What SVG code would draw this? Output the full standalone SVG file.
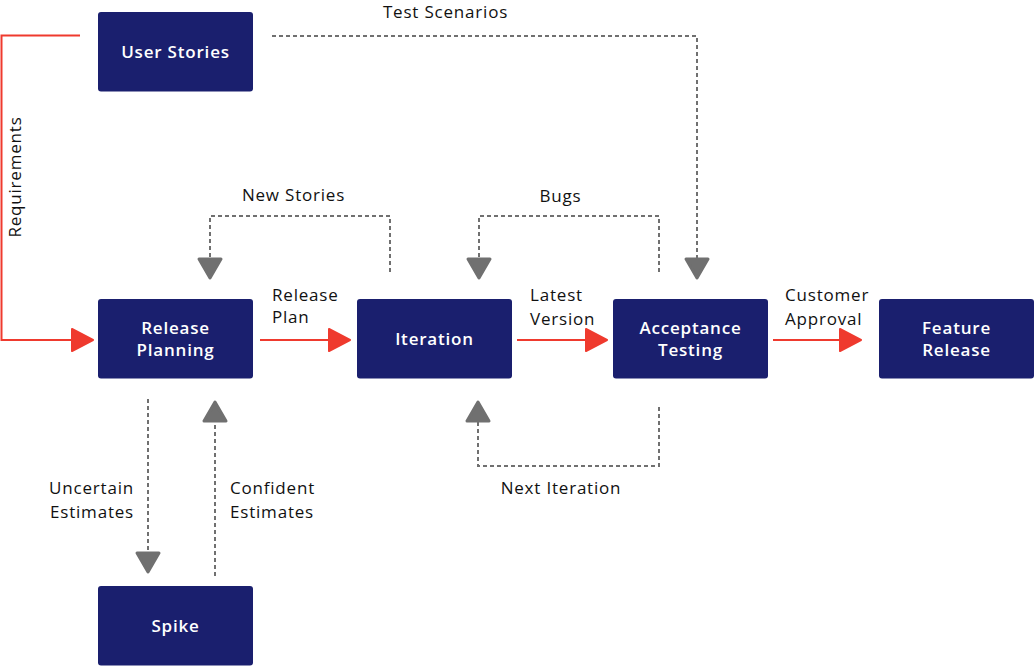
<svg xmlns="http://www.w3.org/2000/svg" width="1035" height="666" viewBox="0 0 1035 666">
<style>
.box{fill:#1a1f6e;}
.nt{font-family:"Open Sans","Liberation Sans",sans-serif;font-weight:600;font-size:17px;letter-spacing:0.8px;fill:#ffffff;text-anchor:middle;}
.lb{font-family:"Open Sans","Liberation Sans",sans-serif;font-size:17px;letter-spacing:0.8px;fill:#111111;}
.red{fill:none;stroke:#ef3a2e;stroke-width:2;}
.dash{fill:none;stroke:#707070;stroke-width:2;stroke-dasharray:4 3;}
</style>
<defs>
<marker id="ar" markerUnits="userSpaceOnUse" markerWidth="26" markerHeight="26" viewBox="0 0 26 26" refX="23" refY="13" orient="auto">
<path d="M2,2 L23,13 L2,24 Z" fill="#ef3a2e" stroke="#ef3a2e" stroke-width="2" stroke-linejoin="round"/>
</marker>
<marker id="ag" markerUnits="userSpaceOnUse" markerWidth="26" markerHeight="28" viewBox="0 0 26 28" refX="22" refY="14" orient="auto">
<path d="M3,3 L22,14 L3,25 Z" fill="#707070" stroke="#707070" stroke-width="3" stroke-linejoin="round"/>
</marker>
</defs>
<g id="connectors">
<path class="red" d="M80,35.5 H1.5 V340 H93" marker-end="url(#ar)"/>
<path class="red" d="M260,340 H350" marker-end="url(#ar)"/>
<path class="red" d="M517,340 H607" marker-end="url(#ar)"/>
<path class="red" d="M773,340 H861" marker-end="url(#ar)"/>
<path class="dash" d="M272,36 H697 V278" marker-end="url(#ag)"/>
<path class="dash" d="M390,272 V216 H210 V278" marker-end="url(#ag)"/>
<path class="dash" d="M659,272 V216 H479 V278" marker-end="url(#ag)"/>
<path class="dash" d="M659,407 V466 H478 V402" marker-end="url(#ag)"/>
<path class="dash" d="M148,399 V572" marker-end="url(#ag)"/>
<path class="dash" d="M215,576 V402" marker-end="url(#ag)"/>
<text class="lb" transform="translate(21,177) rotate(-90)" text-anchor="middle">Requirements</text>
<text class="lb" x="445.5" y="18" text-anchor="middle">Test Scenarios</text>
<text class="lb" x="293.5" y="201" text-anchor="middle">New Stories</text>
<text class="lb" x="560.5" y="202" text-anchor="middle">Bugs</text>
<text class="lb" x="272" y="301">Release</text>
<text class="lb" x="272" y="323">Plan</text>
<text class="lb" x="530" y="301">Latest</text>
<text class="lb" x="530" y="325">Version</text>
<text class="lb" x="785" y="301">Customer</text>
<text class="lb" x="785" y="325">Approval</text>
<text class="lb" x="561" y="494" text-anchor="middle">Next Iteration</text>
<text class="lb" x="134" y="494" text-anchor="end">Uncertain</text>
<text class="lb" x="134" y="518" text-anchor="end">Estimates</text>
<text class="lb" x="230" y="494">Confident</text>
<text class="lb" x="230" y="518">Estimates</text>
</g>
<g id="user-stories">
<rect class="box" x="98" y="12" width="155" height="79.5" rx="3"/>
<text class="nt" x="175.5" y="58">User Stories</text>
</g>
<g id="release-planning">
<rect class="box" x="98" y="299" width="155" height="79.5" rx="3"/>
<text class="nt" x="175.5" y="334">Release</text>
<text class="nt" x="175.5" y="356">Planning</text>
</g>
<g id="iteration">
<rect class="box" x="357" y="299" width="155" height="79.5" rx="3"/>
<text class="nt" x="434.5" y="345">Iteration</text>
</g>
<g id="acceptance-testing">
<rect class="box" x="613" y="299" width="155" height="79.5" rx="3"/>
<text class="nt" x="690.5" y="334">Acceptance</text>
<text class="nt" x="690.5" y="356">Testing</text>
</g>
<g id="feature-release">
<rect class="box" x="879" y="299" width="155" height="79.5" rx="3"/>
<text class="nt" x="956.5" y="334">Feature</text>
<text class="nt" x="956.5" y="356">Release</text>
</g>
<g id="spike">
<rect class="box" x="98" y="586" width="155" height="79.5" rx="3"/>
<text class="nt" x="175.5" y="632">Spike</text>
</g>
</svg>
